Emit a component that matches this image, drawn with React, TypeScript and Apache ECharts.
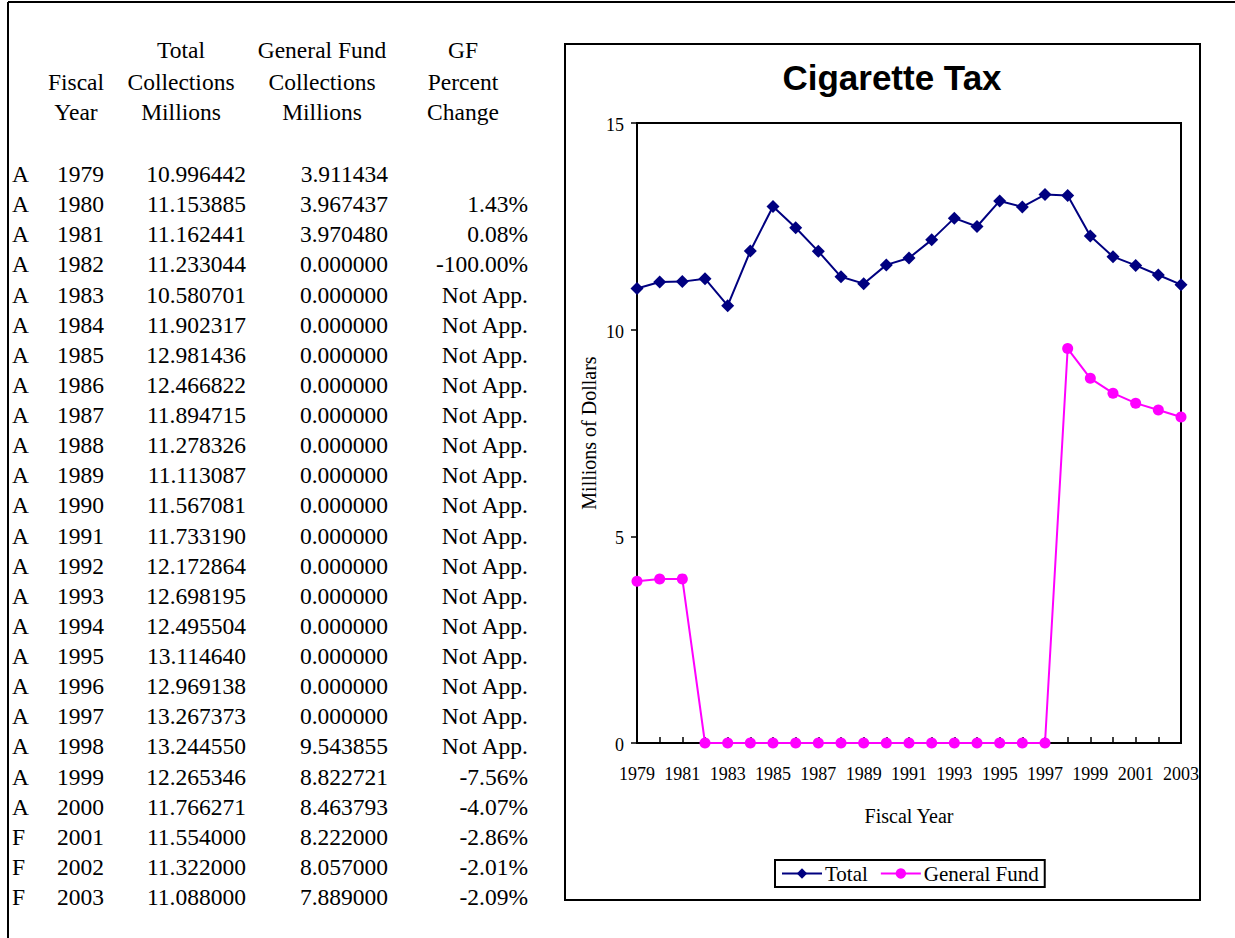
import React, { useEffect, useRef } from "react";
import * as echarts from "echarts";

const statusCodes = ["A","A","A","A","A","A","A","A","A","A","A","A","A","A","A","A","A","A","A","A","A","A","F","F","F"];
const years = ["1979","1980","1981","1982","1983","1984","1985","1986","1987","1988","1989","1990","1991","1992","1993","1994","1995","1996","1997","1998","1999","2000","2001","2002","2003"];
const totalCollections = [10.996442,11.153885,11.162441,11.233044,10.580701,11.902317,12.981436,12.466822,11.894715,11.278326,11.113087,11.567081,11.73319,12.172864,12.698195,12.495504,13.11464,12.969138,13.267373,13.24455,12.265346,11.766271,11.554,11.322,11.088];
const generalFund = [3.911434,3.967437,3.97048,0,0,0,0,0,0,0,0,0,0,0,0,0,0,0,0,9.543855,8.822721,8.463793,8.222,8.057,7.889];
const gfPercentChange = ["","1.43%","0.08%","-100.00%","Not App.","Not App.","Not App.","Not App.","Not App.","Not App.","Not App.","Not App.","Not App.","Not App.","Not App.","Not App.","Not App.","Not App.","Not App.","Not App.","-7.56%","-4.07%","-2.86%","-2.01%","-2.09%"];
const yTicks = { min: 0, max: 15, interval: 5 };

const SERIF = "'Liberation Serif', 'Times New Roman', serif";
const SANS = "'Liberation Sans', Arial, sans-serif";

export default function App() {
  const ref = useRef<HTMLDivElement>(null);
  useEffect(() => {
    if (!ref.current) return;
    const chart = echarts.init(ref.current, null, { renderer: "svg" });
    const tableFont = 23.5;
    const txt = (text: string, x: number, y: number, align: string) => ({
      type: "text",
      x,
      y,
      silent: true,
      style: { text, fill: "#000", font: `${tableFont}px ${SERIF}`, textAlign: align, textVerticalAlign: "middle" },
    });
    const graphics: any[] = [];
    graphics.push({ type: "line", shape: { x1: 8, y1: 2, x2: 1235, y2: 2 }, style: { stroke: "#000", lineWidth: 2 } });
    graphics.push({ type: "line", shape: { x1: 8, y1: 2, x2: 8, y2: 938 }, style: { stroke: "#000", lineWidth: 2 } });
    graphics.push({ type: "rect", shape: { x: 565, y: 44, width: 635, height: 856 }, style: { stroke: "#000", lineWidth: 2, fill: "none" }, z: -1 });
    const headers: [string, number, number][] = [
      ["Fiscal", 76, 82], ["Year", 76, 112],
      ["Total", 181, 50], ["Collections", 181, 82], ["Millions", 181, 112],
      ["General Fund", 322, 50], ["Collections", 322, 82], ["Millions", 322, 112],
      ["GF", 463, 50], ["Percent", 463, 82], ["Change", 463, 112],
    ];
    headers.forEach(([t, x, y]) => graphics.push(txt(t, x, y, "center")));
    years.forEach((yr, i) => {
      const y = 174 + i * 30.125;
      graphics.push(txt(statusCodes[i], 12, y, "left"));
      graphics.push(txt(yr, 104, y, "right"));
      graphics.push(txt(totalCollections[i].toFixed(6), 246, y, "right"));
      graphics.push(txt(generalFund[i].toFixed(6), 388, y, "right"));
      if (gfPercentChange[i]) graphics.push(txt(gfPercentChange[i], 528, y, "right"));
    });

    chart.setOption({
      animation: false,
      backgroundColor: "#fff",
      title: {
        text: "Cigarette Tax",
        left: 887,
        textAlign: "center",
        top: 55,
        textStyle: { fontFamily: SANS, fontWeight: "bold", fontSize: 35, color: "#000" },
      },
      legend: {
        left: 775,
        top: 860,
        orient: "horizontal",
        borderColor: "#000",
        borderWidth: 2,
        padding: [3, 6],
        itemGap: 12,
        itemWidth: 40,
        itemHeight: 13,
        textStyle: { fontFamily: SERIF, fontSize: 21, color: "#000", padding: [0, 0, 0, -2] },
        data: ["Total", "General Fund"],
      },
      grid: {
        left: 637,
        top: 123,
        width: 544,
        height: 620,
        show: true,
        borderColor: "#000",
        borderWidth: 2,
        containLabel: false,
      },
      xAxis: {
        type: "category",
        data: years,
        boundaryGap: false,
        name: "Fiscal Year",
        nameLocation: "middle",
        nameGap: 63,
        nameTextStyle: { fontFamily: SERIF, fontSize: 20, color: "#000" },
        axisLine: { show: true, lineStyle: { color: "#000", width: 2 } },
        axisTick: { show: true, inside: true, length: 6, interval: 0, lineStyle: { color: "#000", width: 1.5 } },
        axisLabel: { interval: 1, margin: 22, fontFamily: SERIF, fontSize: 18, color: "#000" },
        splitLine: { show: false },
      },
      yAxis: {
        type: "value",
        min: yTicks.min,
        max: yTicks.max,
        interval: yTicks.interval,
        name: "Millions of Dollars",
        nameLocation: "middle",
        nameGap: 38,
        nameRotate: 90,
        nameTextStyle: { fontFamily: SERIF, fontSize: 20, color: "#000" },
        axisLine: { show: true, lineStyle: { color: "#000", width: 2 } },
        axisTick: { show: true, inside: false, length: 6, lineStyle: { color: "#000", width: 1.5 } },
        axisLabel: { margin: 13, fontFamily: SERIF, fontSize: 18, color: "#000", verticalAlign: "top", padding: [-7, 0, 0, 0] },
        splitLine: { show: false },
      },
      series: [
        {
          name: "Total",
          type: "line",
          data: totalCollections,
          symbol: "diamond",
          symbolSize: 13,
          itemStyle: { color: "#000080" },
          lineStyle: { color: "#000080", width: 2 },
        },
        {
          name: "General Fund",
          type: "line",
          data: generalFund,
          symbol: "circle",
          symbolSize: 11,
          itemStyle: { color: "#FF00FF" },
          lineStyle: { color: "#FF00FF", width: 2 },
        },
      ],
      graphic: graphics,
    });
    return () => chart.dispose();
  }, []);
  return <div ref={ref} style={{ position: "absolute", left: 0, top: 0, width: 1235, height: 938 }} />;
}
